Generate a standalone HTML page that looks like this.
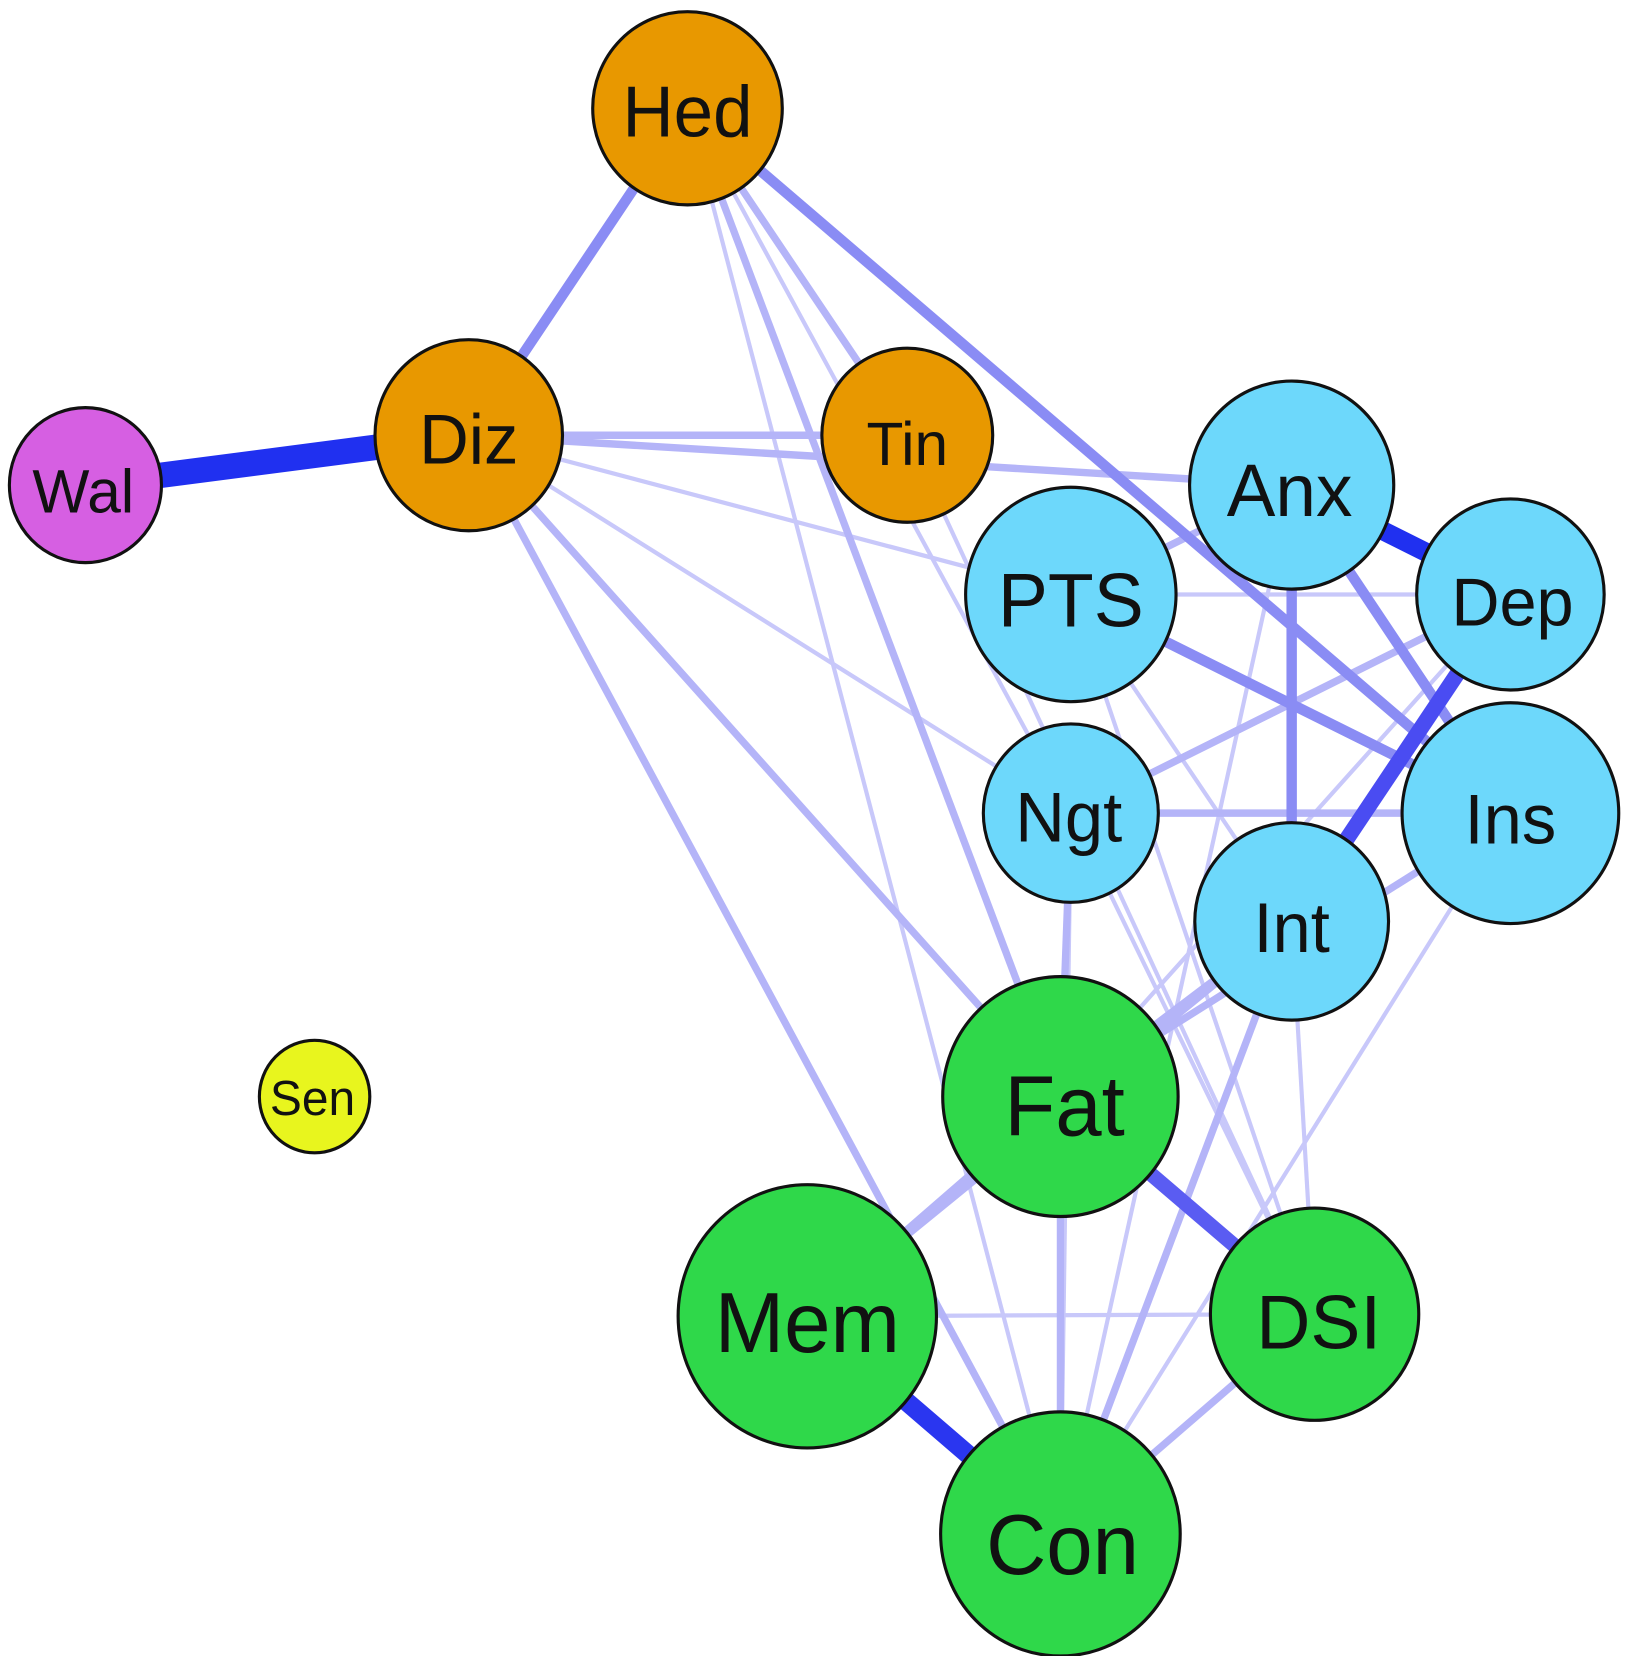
<!DOCTYPE html>
<html><head><meta charset="utf-8"><style>
html,body{margin:0;padding:0;background:#fff;}
svg{display:block;}
text{font-family:"Liberation Sans",sans-serif;fill:#111;text-anchor:middle;dominant-baseline:central;}
</style></head><body>
<svg width="1625" height="1656" viewBox="0 0 1560 1560" preserveAspectRatio="none" xmlns="http://www.w3.org/2000/svg">
<g stroke-linecap="butt" fill="none">
<!-- faint edges -->
<g stroke="#c8c8fa" stroke-width="4">
<line x1="660" y1="102" x2="1018" y2="1445"/>
<line x1="660" y1="102" x2="1028" y2="766"/>
<line x1="450" y1="410" x2="1028" y2="766"/>
<line x1="450" y1="410" x2="1028" y2="560"/>
<line x1="871" y1="410" x2="1262" y2="1238"/>
<line x1="1028" y1="560" x2="1450" y2="560"/>
<line x1="1028" y1="560" x2="1262" y2="1238"/>
<line x1="1028" y1="560" x2="1240" y2="868"/>
<line x1="775" y1="1240" x2="1262" y2="1238"/>
<line x1="1028" y1="766" x2="1262" y2="1238"/>
<line x1="1028" y1="766" x2="1018" y2="1445"/>
<line x1="1240" y1="868" x2="1262" y2="1238"/>
<line x1="1450" y1="766" x2="1018" y2="1445"/>
<line x1="1450" y1="560" x2="1018" y2="1033"/>
<line x1="1018" y1="1033" x2="1262" y2="1238"/>
<line x1="1240" y1="457" x2="1018" y2="1445"/>
</g>
<g stroke="#b4b4f8" stroke-width="7">
<line x1="660" y1="102" x2="871" y2="410"/>
<line x1="660" y1="102" x2="1018" y2="1033"/>
<line x1="450" y1="410" x2="871" y2="410"/>
<line x1="450" y1="410" x2="1240" y2="457"/>
<line x1="450" y1="410" x2="1018" y2="1033"/>
<line x1="450" y1="410" x2="1018" y2="1445"/>
<line x1="1028" y1="766" x2="1450" y2="766"/>
<line x1="1028" y1="766" x2="1450" y2="560"/>
<line x1="1028" y1="766" x2="1018" y2="1033"/>
<line x1="1240" y1="868" x2="1018" y2="1033"/>
<line x1="1450" y1="766" x2="1018" y2="1033"/>
<line x1="1240" y1="868" x2="1018" y2="1445"/>
<line x1="1240" y1="457" x2="1028" y2="560"/>
<line x1="1018" y1="1033" x2="775" y2="1240"/>
<line x1="1018" y1="1033" x2="1018" y2="1445"/>
<line x1="1262" y1="1238" x2="1018" y2="1445"/>
<line x1="1240" y1="868" x2="775" y2="1240"/>
</g>
<g stroke="#8a8cf4" stroke-width="10">
<line x1="660" y1="102" x2="450" y2="410"/>
<line x1="660" y1="102" x2="1450" y2="766"/>
<line x1="1028" y1="560" x2="1450" y2="766"/>
<line x1="1240" y1="457" x2="1450" y2="766"/>
<line x1="1240" y1="457" x2="1240" y2="868"/>
</g>
<line x1="1240" y1="868" x2="1450" y2="560" stroke="#4a4cf2" stroke-width="15"/>
<line x1="1018" y1="1033" x2="1262" y2="1238" stroke="#5a5cf2" stroke-width="14"/>
<line x1="1240" y1="457" x2="1450" y2="560" stroke="#2030f0" stroke-width="18"/>
<line x1="775" y1="1240" x2="1018" y2="1445" stroke="#2a36f0" stroke-width="18"/>
<line x1="82" y1="457" x2="450" y2="410" stroke="#2030f0" stroke-width="24"/>
</g>
<g stroke="#111" stroke-width="3">
<circle cx="660" cy="102" r="91" fill="#e89800"/>
<circle cx="450" cy="410" r="90" fill="#e89800"/>
<circle cx="82" cy="457" r="73" fill="#d65fe2"/>
<circle cx="871" cy="410" r="82" fill="#e89800"/>
<circle cx="1240" cy="457" r="98" fill="#6dd8fb"/>
<circle cx="1028" cy="560" r="101" fill="#6dd8fb"/>
<circle cx="1450" cy="560" r="90" fill="#6dd8fb"/>
<circle cx="1028" cy="766" r="84" fill="#6dd8fb"/>
<circle cx="1450" cy="766" r="104" fill="#6dd8fb"/>
<circle cx="1240" cy="868" r="93" fill="#6dd8fb"/>
<circle cx="1018" cy="1033" r="113" fill="#2fd84a"/>
<circle cx="302" cy="1033" r="53" fill="#e8f51e"/>
<circle cx="775" cy="1240" r="124" fill="#2fd84a"/>
<circle cx="1262" cy="1238" r="100" fill="#2fd84a"/>
<circle cx="1018" cy="1445" r="115" fill="#2fd84a"/>
</g>
<text x="660" y="106" font-size="68">Hed</text>
<text x="450" y="414" font-size="66">Diz</text>
<text x="80" y="463" font-size="58">Wal</text>
<text x="871" y="418" font-size="58">Tin</text>
<text x="1238" y="462" font-size="70">Anx</text>
<text x="1028" y="566" font-size="72">PTS</text>
<text x="1452" y="568" font-size="64">Dep</text>
<text x="1026" y="770" font-size="66">Ngt</text>
<text x="1450" y="772" font-size="66">Ins</text>
<text x="1240" y="874" font-size="66">Int</text>
<text x="1022" y="1042" font-size="80">Fat</text>
<text x="300" y="1035" font-size="46">Sen</text>
<text x="775" y="1246" font-size="80">Mem</text>
<text x="1266" y="1246" font-size="72">DSI</text>
<text x="1020" y="1455" font-size="80">Con</text>
</svg>
</body></html>
